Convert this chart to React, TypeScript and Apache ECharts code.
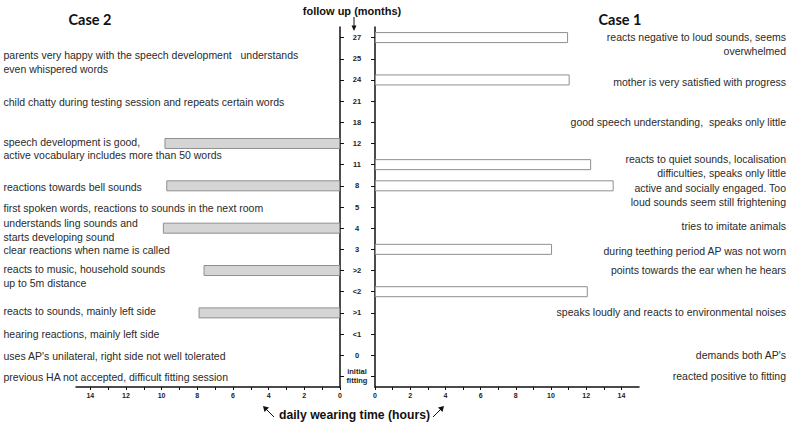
import React, { useEffect, useRef } from "react";
import * as echarts from "echarts";

// ---- data ----
const followUpMonths = ["27", "25", "24", "21", "18", "12", "11", "8", "5", "4", "3", ">2", "<2", ">1", "<1", "0", "initial\nfitting"];
const case2Hours = [null, null, null, null, null, 9.84, null, 9.74, null, 9.93, null, 7.65, null, 7.93, null, null, null];
const case1Hours = [10.97, null, 11.06, null, null, null, 12.28, 13.56, null, null, 10.06, null, 12.09, null, null, null, null];
const hourTicks = [0, 2, 4, 6, 8, 10, 12, 14];

const case2Notes = [
  "parents very happy with the speech development   understands",
  "even whispered words",
  "child chatty during testing session and repeats certain words",
  "speech development is good,",
  "active vocabulary includes more than 50 words",
  "reactions towards bell sounds",
  "first spoken words, reactions to sounds in the next room",
  "understands ling sounds and",
  "starts developing sound",
  "clear reactions when name is called",
  "reacts to music, household sounds",
  "up to 5m distance",
  "reacts to sounds, mainly left side",
  "hearing reactions, mainly left side",
  "uses AP's unilateral, right side not well tolerated",
  "previous HA not accepted, difficult fitting session",
];
const case1Notes = [
  "reacts negative to loud sounds, seems",
  "overwhelmed",
  "mother is very satisfied with progress",
  "good speech understanding,  speaks only little",
  "reacts to quiet sounds, localisation",
  "difficulties, speaks only little",
  "active and socially engaged. Too",
  "loud sounds seem still frightening",
  "tries to imitate animals",
  "during teething period AP was not worn",
  "points towards the ear when he hears",
  "speaks loudly and reacts to environmental noises",
  "demands both AP's",
  "reacted positive to fitting",
];

// ---- layout (text baselines, pixels) ----
const case2NoteY = [55, 69, 102, 141.5, 155, 186.5, 208, 222.5, 236.5, 250, 268.5, 282.5, 311, 333.5, 355.5, 377];
const case1NoteY = [37, 51, 81.5, 121.5, 158.5, 173, 187.5, 201.5, 226, 251, 270, 312, 355, 375.5];

const FONT = "Liberation Sans, Arial, Helvetica, sans-serif";

export default function App() {
  const ref = useRef<HTMLDivElement>(null);
  useEffect(() => {
    if (!ref.current) return;
    const chart = echarts.init(ref.current, null, { renderer: "svg" });

    const noteText = (t: string, x: number, y: number, align: string) => ({
      type: "text",
      silent: true,
      style: {
        text: t,
        x,
        y,
        fill: "#2a2a2a",
        fontSize: 10.5,
        fontFamily: FONT,
        textAlign: align,
        textVerticalAlign: "middle",
      },
    });

    const graphics: any[] = [];
    case2Notes.forEach((t, i) => graphics.push(noteText(t, 3.5, case2NoteY[i], "left")));
    case1Notes.forEach((t, i) => graphics.push(noteText(t, 786, case1NoteY[i], "right")));

    graphics.push(
      {
        type: "text",
        style: { text: "Case 2", x: 90, y: 19, fill: "#111", fontSize: 14.5, fontWeight: "bold", fontFamily: "Lato, sans-serif", textAlign: "center", textVerticalAlign: "middle" },
      },
      {
        type: "text",
        style: { text: "Case 1", x: 620, y: 19, fill: "#111", fontSize: 14.5, fontWeight: "bold", fontFamily: "Lato, sans-serif", textAlign: "center", textVerticalAlign: "middle" },
      },
      {
        type: "text",
        style: { text: "follow up (months)", x: 352, y: 11, fill: "#111", fontSize: 11, fontWeight: "bold", fontFamily: FONT, textAlign: "center", textVerticalAlign: "middle" },
      },
      {
        type: "text",
        style: { text: "daily wearing time (hours)", x: 354.5, y: 415, fill: "#111", fontSize: 12.2, fontWeight: "bold", fontFamily: FONT, textAlign: "center", textVerticalAlign: "middle" },
      },
      // down arrow under "follow up"
      { type: "line", shape: { x1: 354, y1: 17, x2: 354, y2: 27 }, style: { stroke: "#111", lineWidth: 1 } },
      { type: "polygon", shape: { points: [[351.5, 25.5], [356.5, 25.5], [354, 31]] }, style: { fill: "#111" } },
      // bottom-left arrow
      { type: "line", shape: { x1: 274, y1: 417, x2: 265, y2: 408 }, style: { stroke: "#111", lineWidth: 1 } },
      { type: "polygon", shape: { points: [[263, 406], [269, 407.5], [264.5, 412]] }, style: { fill: "#111" } },
      // bottom-right arrow
      { type: "line", shape: { x1: 433, y1: 417, x2: 442, y2: 408 }, style: { stroke: "#111", lineWidth: 1 } },
      { type: "polygon", shape: { points: [[444, 406], [438, 407.5], [442.5, 412]] }, style: { fill: "#111" } }
    );

    const xAxisCommon = (gridIndex: number, max: number, inverse: boolean) => ({
      type: "value",
      gridIndex,
      min: 0,
      max,
      interval: 1,
      inverse,
      splitLine: { show: false },
      axisLine: { show: true, lineStyle: { color: "#111", width: 1.5 } },
      axisTick: { show: true, length: 3, lineStyle: { color: "#111", width: 1 } },
      axisLabel: {
        showMaxLabel: false,
        color: "#222",
        fontSize: 7,
        fontWeight: "bold",
        fontFamily: FONT,
        margin: 5,
        formatter: (v: number) => (hourTicks.indexOf(v) >= 0 ? String(v) : ""),
      },
    });

    chart.setOption({
      animation: false,
      graphic: graphics,
      grid: [
        { left: 76, width: 264, top: 27, height: 360 },
        { left: 375, width: 264, top: 27, height: 360 },
      ],
      xAxis: [xAxisCommon(0, 14.8, true), xAxisCommon(1, 15, false)],
      yAxis: [
        {
          type: "category",
          gridIndex: 0,
          data: followUpMonths,
          inverse: true,
          position: "right",
          axisLine: { show: true, lineStyle: { color: "#111", width: 1.5 } },
          axisTick: { show: true, alignWithLabel: true, length: 4, lineStyle: { color: "#111" } },
          axisLabel: { show: false },
        },
        {
          type: "category",
          gridIndex: 1,
          data: followUpMonths,
          inverse: true,
          position: "left",
          axisLine: { show: true, lineStyle: { color: "#111", width: 1.5 } },
          axisTick: { show: true, alignWithLabel: true, length: 4, lineStyle: { color: "#111" } },
          axisLabel: {
            show: true,
            align: "center",
            margin: 18,
            color: "#222",
            fontSize: 7.5,
            lineHeight: 9,
            fontWeight: "bold",
            fontFamily: FONT,
          },
        },
      ],
      series: [
        {
          type: "bar",
          xAxisIndex: 0,
          yAxisIndex: 0,
          data: case2Hours,
          barWidth: 11,
          itemStyle: { color: "#d5d5d5", borderColor: "#8f8f8f", borderWidth: 1 },
        },
        {
          type: "bar",
          xAxisIndex: 1,
          yAxisIndex: 1,
          data: case1Hours,
          barWidth: 11,
          itemStyle: { color: "#ffffff", borderColor: "#8f8f8f", borderWidth: 1 },
        },
      ],
    });
    return () => chart.dispose();
  }, []);
  return <div ref={ref} style={{ width: 792, height: 428, position: "absolute", left: 0, top: 0, background: "#fff" }} />;
}
